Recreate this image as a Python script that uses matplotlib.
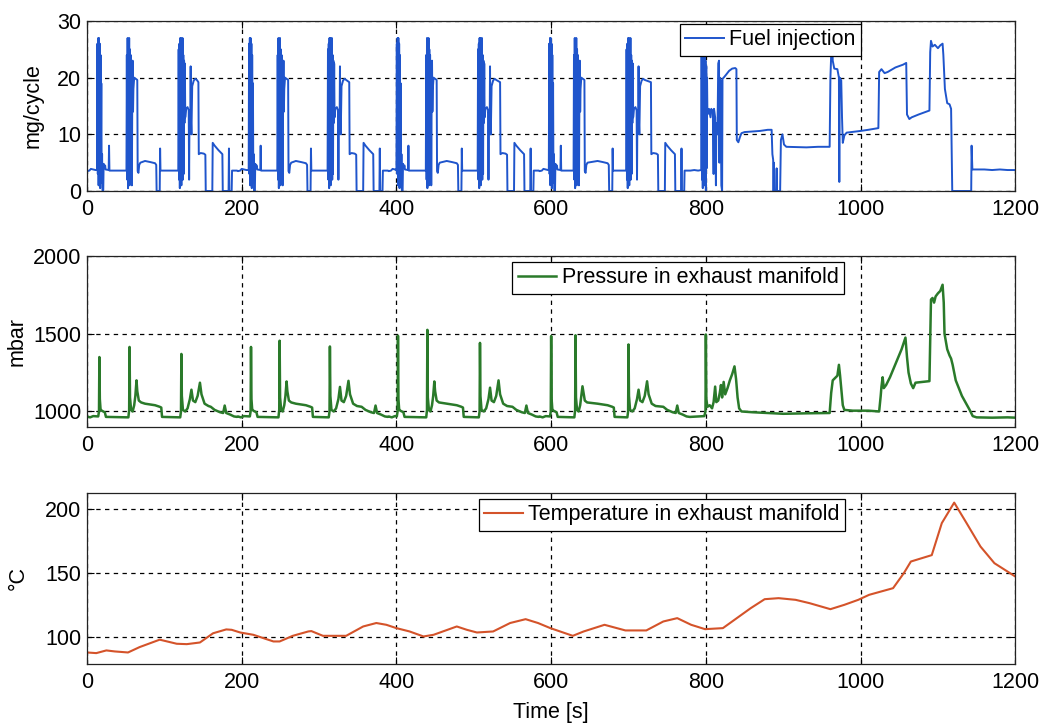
import matplotlib
matplotlib.use("Agg")
import matplotlib.pyplot as plt

plt.rcParams['font.family'] = ['Liberation Sans', 'DejaVu Sans']

TIME_TICKS = [0, 200, 400, 600, 800, 1000, 1200]

# Start times of the four urban sub-cycles (s)
CYCLE_START = [0, 195, 390, 585]

# ---------------- fuel injection [mg/cycle] ----------------
FUEL_HEAD_T = [0, 3, 5, 8, 11]
FUEL_HEAD_V = [3.5, 3.6, 3.9, 3.8, 3.7]
# onset of the three acceleration bursts in each sub-cycle (s, relative)
FUEL_BURST_AT = [[13, 51, 118], [14, 51, 116], [10, 48, 115], [12, 44, 112]]

FUEL_B1_DT = [0, 0.5, 1.0, 1.5, 2.0, 2.5, 3.0, 3.5, 4.0, 4.5, 5.0, 5.5, 6.0, 6.5,
              7.0, 8.0, 8.5, 9.5, 10.5, 11.0, 15.0, 15.5, 16.0]
FUEL_B1_V = [3.7, 26, 3, 27, 1, 27, 5, 26, 0.5, 24, 7, 19, 1.5, 6.5,
             0, 0, 4.8, 4.3, 4.5, 3.8, 3.7, 8.0, 3.6]

FUEL_B2_DT = [0, 0.5, 1, 1.5, 2, 2.5, 3, 3.5, 4, 4.5, 5, 5.5, 6, 6.5, 7, 7.5,
              8, 8.5, 9, 10, 12, 14, 14.5, 15.5, 16.5, 18]
FUEL_B2_V = [3.6, 24, 2, 27, 0.5, 26, 9, 27, 1, 25, 4, 24, 12, 22, 1, 16,
             23, 14, 18, 20, 19.8, 19.6, 3.5, 3.2, 4.6, 5.0]
FUEL_B2_TAIL_T = [75, 82, 88, 89.5, 90, 94, 94.5, 95]
FUEL_B2_TAIL_V = [5.3, 5.1, 4.9, 4.6, 0, 0, 7.5, 3.6]

FUEL_B3_DT = [0, 0.5, 1, 1.5, 2, 2.5, 3, 3.5, 4, 4.5, 5, 5.5, 6, 6.5, 7, 7.5,
              8, 8.5, 9, 10, 12, 13.5, 14, 14.5, 15.5, 16, 16.5, 17, 18, 20, 22, 24]
FUEL_B3_V = [3.6, 25, 2, 26, 0.5, 27, 6, 27, 1, 26, 9, 27, 2, 24, 3, 23,
             12, 22.5, 13, 14.5, 14.8, 14.2, 2, 14, 11, 22, 12, 10, 18.5, 19.5, 19.8, 19.6]
FUEL_B3_TAIL_T = [144, 144.5, 147, 151, 153, 153.5, 162, 162.5, 165, 170, 175,
                  175.5, 183, 183.5, 184, 187, 187.5, 194]
FUEL_B3_TAIL_V = [19.2, 6.5, 6.7, 6.6, 6.4, 0, 0, 8.5, 8.0, 7.2, 6.5,
                  0, 0, 7.5, 0, 0, 3.6, 3.6]

# extra-urban part (absolute time)
EUDC_FUEL_T = [780, 785, 790, 794, 794.5, 795, 795.5, 796, 796.5, 797, 797.5, 798,
               798.5, 799, 799.5, 800, 800.5, 801, 801.5, 802, 804, 806, 807, 809,
               810, 810.5, 812, 813, 813.5, 815, 816, 817, 817.5, 818, 819, 820,
               821, 821.5, 823, 826, 830, 834, 838, 839.5, 840, 842, 844, 846,
               850, 860, 870, 880, 885, 886, 887, 887.5, 888, 888.5, 891, 891.5,
               892, 896, 897, 899, 901, 904, 930, 945, 960, 961, 962, 963, 964,
               966, 970, 972, 972.5, 973, 975, 976, 977, 979, 982, 1000, 1010,
               1023, 1024, 1027, 1031, 1035, 1045, 1055, 1059, 1060, 1063, 1066,
               1075, 1085, 1089, 1090, 1091, 1093, 1096, 1100, 1103, 1106, 1107,
               1109, 1112, 1115, 1117, 1118.5, 1143, 1143.5, 1144.5, 1160, 1170,
               1180, 1190, 1200]
EUDC_FUEL_V = [3.6, 3.7, 3.6, 3.7, 24, 2, 25, 0.5, 24, 5, 25, 1,
               24, 8, 23, 0, 22, 4, 20, 13.5, 14.5, 13, 14.5, 14,
               3, 14.5, 13, 1, 12, 10, 22.5, 23, 5, 20, 19.5, 1,
               0, 19.8, 20, 20.5, 21.2, 21.6, 21.7, 21.5, 9, 8.6, 9.5, 10.2,
               10.4, 10.5, 10.6, 10.8, 10.8, 6.5, 5.5, 0, 5, 0, 0, 4,
               0, 0, 9, 10, 8.2, 7.8, 7.7, 7.8, 7.8, 20, 24, 28, 23,
               21.6, 21.5, 20, 1.6, 20, 19.5, 13, 8.5, 9.8, 10.3, 10.6, 10.8,
               11.1, 21, 21.5, 20.8, 21, 21.8, 22.3, 22.6, 13.5, 12.7, 13,
               13.5, 14, 14.2, 24.5, 26.5, 25.5, 25.8, 25.2, 25.7, 26, 24,
               18, 15.5, 15.3, 14.5, 0, 0, 8, 3.8, 3.8, 3.7,
               3.8, 3.7, 3.7]

# ---------------- exhaust manifold pressure [mbar] ----------------
P_HEAD_T = [0, 4, 8]
P_HEAD_V = [968, 962, 970]
P_SPIKE_AT = [[16, 55, 122], [17, 54, 119], [12, 50, 118], [15, 46.5, 115]]
P_SPIKE_H = [[1350, 1415, 1370], [1415, 1455, 1418], [1487, 1525, 1441], [1485, 1490, 1431]]
P_BUMP_H = [[1200, 1140, 1185], [1193, 1158, 1197], [1193, 1153, 1200], [1162, 1140, 1194]]

P_S1_DT = [-1.5, -0.5, 0, 0.6, 1.5, 3, 5, 7, 8.5]
P_S1_V = [968, 1000, None, 1080, 1015, 1005, 1000, 995, 965]
P_S2_DT = [-1.5, -0.5, 0, 0.6, 2, 4, 6, 7.5, 9, 10, 12, 15]
P_S2_V = [962, 1010, None, 1090, 1010, 1000, 1040, 1100, None, 1130, 1070, 1058]
P_S2_TAIL_T = [75, 88, 94, 96, 97]
P_S2_TAIL_V = [1050, 1040, 1030, 1025, 965]
P_S3_DT = [-1.5, -0.5, 0, 0.6, 2, 5, 8, 11, 13, 15, 18, 21, 24, 26, 30, 35]
P_S3_V = [962, 1000, None, 1100, 1010, 1000, 1020, 1080, None, 1070, 1060, 1100,
          None, 1110, 1050, 1035]
P_S3_TAIL_T = [160, 165, 172, 176, 178, 180, 185, 190, 194]
P_S3_TAIL_V = [1030, 1010, 995, 990, 1038, 990, 980, 968, 965]

EUDC_P_T = [780, 790, 798, 799.5, 800, 800.6, 802, 805, 808, 810, 812, 813.5, 816,
            818, 819.5, 821, 823, 825, 828, 831, 834, 837, 839, 841, 843, 846,
            860, 880, 900, 930, 960, 962, 964, 967, 970, 972, 973.5, 975, 977,
            979, 990, 1010, 1024, 1026, 1027, 1028.5, 1030, 1033, 1038, 1043,
            1048, 1053, 1058, 1060, 1062, 1065, 1068, 1071, 1080, 1089, 1090,
            1091, 1093, 1095, 1097, 1100, 1103, 1106, 1107.5, 1108.5, 1112, 1115,
            1117, 1119, 1123, 1127, 1131, 1136, 1141, 1145, 1150, 1170, 1190, 1200]
EUDC_P_V = [965, 968, 970, 1000, 1495, 1080, 1030, 1040, 1020, 1060, 1160, 1060, 1070,
            1120, 1170, 1090, 1190, 1110, 1150, 1200, 1240, 1290, 1210, 1090, 1020, 1000,
            995, 990, 985, 988, 990, 1120, 1200, 1215, 1230, 1300, 1230, 1150, 1040,
            1010, 1005, 1005, 1000, 1100, 1160, 1220, 1150, 1170, 1220, 1280,
            1340, 1400, 1475, 1350, 1250, 1180, 1150, 1185, 1190, 1195, 1450,
            1720, 1730, 1700, 1740, 1760, 1775, 1815, 1700, 1500, 1400, 1360,
            1340, 1300, 1200, 1150, 1100, 1055, 1010, 970, 962, 960, 962, 960]

# ---------------- exhaust manifold temperature [°C] ----------------
TEMP_T = [0, 12, 25, 36, 53, 68, 94, 116, 129, 146, 163, 180, 187, 198, 215, 228,
          241, 249, 266, 286, 290, 305, 335, 357, 374, 387, 400, 417, 435, 448,
          478, 491, 504, 525, 547, 567, 583, 599, 628, 642, 669, 696, 723, 745,
          763, 781, 799, 822, 840, 858, 876, 894, 916, 934, 961, 979, 997, 1011,
          1042, 1056, 1065, 1092, 1105, 1121, 1137, 1155, 1173, 1200]
TEMP_V = [88, 87.5, 89.6, 88.8, 88, 92.2, 98, 94.8, 94.5, 95.8, 103, 106, 105.7, 103.6,
          101.8, 99.2, 96.6, 96.6, 101, 104.4, 104.7, 101, 101, 108.3, 111, 109.6, 107,
          104.4, 100.5, 101.8, 108.3, 105.7, 103.6, 104.4, 111, 114, 111, 107, 101,
          104.4, 109.6, 105.2, 105.2, 112.2, 114.8, 109.6, 106.2, 107, 114.8, 122.6,
          129.6, 130.4, 129.1, 126.5, 121.8, 125.2, 129.1, 133, 138.2, 150, 159, 164,
          189, 205, 189, 170.7, 157.7, 147.3]


def build_fuel():
    t, v = [], []
    for c, (s1, s2, s3) in zip(CYCLE_START, FUEL_BURST_AT):
        parts = [(c, FUEL_HEAD_T, FUEL_HEAD_V),
                 (c + s1, FUEL_B1_DT, FUEL_B1_V),
                 (c + s2, FUEL_B2_DT, FUEL_B2_V),
                 (c, FUEL_B2_TAIL_T, FUEL_B2_TAIL_V),
                 (c + s3, FUEL_B3_DT, FUEL_B3_V),
                 (c, FUEL_B3_TAIL_T, FUEL_B3_TAIL_V)]
        for base, dts, vals in parts:
            t += [base + d for d in dts]
            v += list(vals)
    return t + EUDC_FUEL_T, v + EUDC_FUEL_V


def fill(vals, *peaks):
    it = iter(peaks)
    return [next(it) if x is None else x for x in vals]


def build_pressure():
    t, v = [], []
    for c, at, h, b in zip(CYCLE_START, P_SPIKE_AT, P_SPIKE_H, P_BUMP_H):
        parts = [(c, P_HEAD_T, P_HEAD_V),
                 (c + at[0], P_S1_DT, fill(P_S1_V, h[0])),
                 (c + at[1], P_S2_DT, fill(P_S2_V, h[1], b[0])),
                 (c, P_S2_TAIL_T, P_S2_TAIL_V),
                 (c + at[2], P_S3_DT, fill(P_S3_V, h[2], b[1], b[2])),
                 (c, P_S3_TAIL_T, P_S3_TAIL_V)]
        for base, dts, vals in parts:
            t += [base + d for d in dts]
            v += list(vals)
    return t + EUDC_P_T, v + EUDC_P_V


fuel_t, fuel_v = build_fuel()
pres_t, pres_v = build_pressure()

FS = 15.5
fig = plt.figure(figsize=(10.44, 7.27), dpi=100)
left, width = 87 / 1044, 928.3 / 1044
ax1 = fig.add_axes([left, 1 - 191 / 727, width, 170 / 727])
ax2 = fig.add_axes([left, 1 - 427 / 727, width, 171 / 727])
ax3 = fig.add_axes([left, 1 - 664 / 727, width, 171 / 727])

ax1.plot(fuel_t, fuel_v, color='#1f55cc', lw=1.4, label='Fuel injection')
ax2.plot(pres_t, pres_v, color='#2a7a2a', lw=1.8, label='Pressure in exhaust manifold')
ax3.plot(TEMP_T, TEMP_V, color='#d4532a', lw=1.5, label='Temperature in exhaust manifold')

ax1.set_ylim(0, 30)
ax1.set_yticks([0, 10, 20, 30])
ax2.set_ylim(900, 2000)
ax2.set_yticks([1000, 1500, 2000])
ax3.set_ylim(79, 212.5)
ax3.set_yticks([100, 150, 200])

ax1.set_ylabel('mg/cycle', fontsize=FS)
ax2.set_ylabel('mbar', fontsize=FS)
ax3.set_ylabel('°C', fontsize=FS)
ax1.yaxis.set_label_coords(-0.047, 0.5)
ax2.yaxis.set_label_coords(-0.064, 0.5)
ax3.yaxis.set_label_coords(-0.0625, 0.5)
ax3.set_xlabel('Time [s]', fontsize=FS)
ax3.xaxis.set_label_coords(0.5, -0.225)

legend_anchor = [(0.834, 0.982), (0.8155, 0.965), (0.8166, 0.965)]
for ax, anchor in zip((ax1, ax2, ax3), legend_anchor):
    ax.set_xlim(0, 1200)
    ax.set_xticks(TIME_TICKS)
    ax.grid(True, color='black', linestyle=(0, (3.5, 3.5)), linewidth=0.9)
    ax.set_axisbelow(True)
    ax.tick_params(direction='in', top=True, right=True, length=5,
                   width=0.8, labelsize=FS)
    ax.tick_params(axis='x', pad=6)
    ax.tick_params(axis='y', pad=4)
    for sp in ax.spines.values():
        sp.set_linewidth(0.9)
        sp.set_color('#222222')
    leg = ax.legend(loc='upper right', bbox_to_anchor=anchor, fontsize=15.5,
                    frameon=True, fancybox=False, framealpha=1,
                    edgecolor='black', borderpad=0.25, borderaxespad=0,
                    handlelength=1.8, handletextpad=0.25)
    leg.get_frame().set_linewidth(0.9)

fig.savefig('out.png', dpi=100)
